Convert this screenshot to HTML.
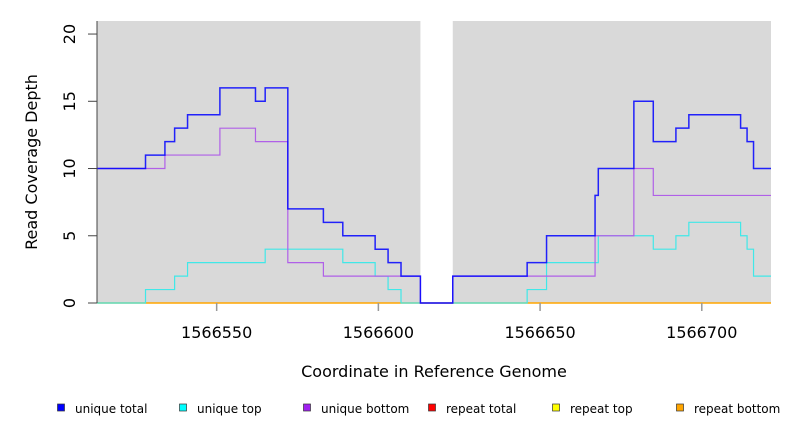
<!DOCTYPE html>
<html><head><meta charset="utf-8"><style>
body{margin:0;background:#fff;}
svg text{font-family:"DejaVu Sans","Liberation Sans",sans-serif;}
</style></head><body>
<svg id="chart" width="792" height="432" xmlns="http://www.w3.org/2000/svg">
<g id="plot"></g>
</svg>
<script>
const xTicks=[1566550,1566600,1566650,1566700];
const yTicks=[0,5,10,15,20];
const gapRange=[1566613,1566623];
const totalBreaks=[1566513,1566528,1566534,1566537,1566541,1566551,1566562,1566565,1566572,1566583,1566589,1566599,1566603,1566607,1566613,1566623,1566646,1566652,1566667,1566668,1566679,1566685,1566692,1566696,1566712,1566714,1566716];
const totalValues=[10,11,12,13,14,16,15,16,7,6,5,4,3,2,0,2,3,5,8,10,15,12,13,14,13,12,10];
const topBreaks=[1566513,1566528,1566537,1566541,1566565,1566589,1566599,1566603,1566607,1566646,1566652,1566668,1566685,1566692,1566696,1566712,1566714,1566716];
const topValues=[0,1,2,3,4,3,2,1,0,1,3,5,4,5,6,5,4,2];
const bottomBreaks=[1566513,1566534,1566551,1566562,1566572,1566583,1566613,1566623,1566667,1566679,1566685];
const bottomValues=[10,11,13,12,3,2,0,2,5,10,8];
const repeatBreaks=[1566513];
const repeatValues=[0];
const legendLabels=["unique total","unique top","unique bottom","repeat total","repeat top","repeat bottom"];
const legendColors=["#0000ff","#00ffff","#a020f0","#ff0000","#ffff00","#ffa500"];

const X0=1566513,X1=1566721.4,Y0=0,Y1=20.97;
const PL=97,PR=771,PT=21,PB=303;
const sx=v=>PL+(v-X0)/(X1-X0)*(PR-PL);
const sy=v=>PB-(v-Y0)/(Y1-Y0)*(PB-PT);
const NS="http://www.w3.org/2000/svg";
const g=document.getElementById('plot');
function mk(t,a,p){const e=document.createElementNS(NS,t);for(const k in a)e.setAttribute(k,a[k]);(p||g).appendChild(e);return e;}

let bg=mk('rect',{x:PL,y:PT,width:PR-PL,height:PB-PT,fill:'#d9d9d9'});


let gap=mk('rect',{x:sx(gapRange[0]),y:PT,width:sx(gapRange[1])-sx(gapRange[0]),height:PB-PT,fill:'#ffffff'});



function stepPath(br,vals){
  let d='';
  for(let i=0;i<br.length;i++){
    const xa=sx(br[i]),xb=i+1<br.length?sx(br[i+1]):PR,y=sy(vals[i]);
    d+=(i===0?'M':'L')+xa+','+y+' L'+xb+','+y+' ';
  }
  return d;
}
let r1=mk('path',{d:stepPath(repeatBreaks,repeatValues),stroke:'#ffa500',fill:'none','stroke-width':1.5});


let tp=mk('path',{d:stepPath(topBreaks,topValues),stroke:'#40e8e8',fill:'none','stroke-width':1.2});


let bt=mk('path',{d:stepPath(bottomBreaks,bottomValues),stroke:'#b060e8',fill:'none','stroke-width':1.2});


let tt=mk('path',{d:stepPath(totalBreaks,totalValues),stroke:'#0000ff',fill:'none','stroke-width':1.5,'stroke-opacity':0.85});



let ya=mk('line',{x1:PL,y1:PT,x2:PL,y2:PB,stroke:'#444','stroke-width':1});


yTicks.forEach(v=>{
  const y=sy(v);
  let t=mk('line',{x1:88,y1:y,x2:PL,y2:y,stroke:'#444'});
  
  
  let l=mk('text',{x:0,y:0,transform:`translate(75,${y}) rotate(-90)`,'text-anchor':'middle','font-size':16,fill:'#000'});
  l.textContent=v;
  
  
});
xTicks.forEach(v=>{
  const x=sx(v);
  let t=mk('line',{x1:x,y1:PB,x2:x,y2:PB+8,stroke:'#999','stroke-width':1.5});
  
  
  let l=mk('text',{x:x,y:338,'text-anchor':'middle','font-size':16,fill:'#000'});
  l.textContent=v;
  
  
});
let xt=mk('text',{x:434,y:377,'text-anchor':'middle','font-size':16});
xt.textContent='Coordinate in Reference Genome';


let yt=mk('text',{x:0,y:0,transform:'translate(37,162) rotate(-90)','text-anchor':'middle','font-size':16});
yt.textContent='Read Coverage Depth';



const lx=[61,183,307,432,556,680];
legendLabels.forEach((lab,i)=>{
  let s=mk('rect',{x:lx[i]-3.5,y:404,width:7,height:7,fill:legendColors[i],stroke:'#333','stroke-width':0.7});
  
  
  let t=mk('text',{x:lx[i]+14,y:413,'font-size':12});
  t.textContent=lab;
  
  
});
</script>
</body></html>
